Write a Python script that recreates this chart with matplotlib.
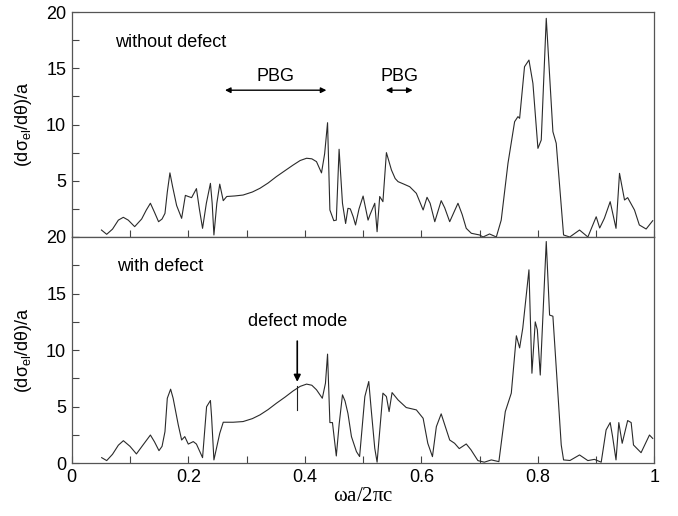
import matplotlib
matplotlib.use("Agg")
import matplotlib.pyplot as plt
from matplotlib.ticker import MultipleLocator

# top panel: without defect
top_x = [0.051, 0.06, 0.07, 0.08, 0.0885, 0.097, 0.108, 0.12, 0.128, 0.135, 0.142, 0.149, 0.155, 0.16,
         0.164, 0.1685, 0.173, 0.18, 0.1886, 0.195, 0.2, 0.2057, 0.214, 0.219, 0.2245, 0.231, 0.238,
         0.241, 0.244, 0.249, 0.254, 0.26, 0.266, 0.28, 0.294, 0.31, 0.323, 0.337, 0.351, 0.366, 0.38,
         0.392, 0.403, 0.412, 0.42, 0.4286, 0.434, 0.439, 0.443, 0.4497, 0.454, 0.4588, 0.4646, 0.470,
         0.474, 0.478, 0.483, 0.487, 0.493, 0.50, 0.5085, 0.512, 0.52, 0.524, 0.5285, 0.534, 0.540,
         0.5486, 0.555, 0.56, 0.57, 0.58, 0.5914, 0.603, 0.6097, 0.615, 0.623, 0.634, 0.64, 0.6486,
         0.6628, 0.67, 0.677, 0.6857, 0.70, 0.7057, 0.717, 0.7286, 0.737, 0.7486, 0.76, 0.7657, 0.7686,
         0.777, 0.7846, 0.7914, 0.80, 0.8057, 0.8143, 0.8257, 0.8314, 0.844, 0.8546, 0.8714, 0.8857,
         0.90, 0.906, 0.914, 0.924, 0.934, 0.94, 0.9486, 0.954, 0.9657, 0.974, 0.9857, 0.997]
top_y = [0.62, 0.24, 0.7, 1.5, 1.75, 1.5, 0.92, 1.6, 2.4, 3.0, 2.2, 1.36, 1.6, 2.1,
         4.0, 5.7, 4.5, 2.8, 1.66, 3.7, 3.6, 3.5, 4.3, 2.5, 0.77, 3.0, 4.77,
         3.0, 0.18, 3.0, 4.7, 3.23, 3.6, 3.65, 3.73, 4.0, 4.33, 4.8, 5.36, 5.9, 6.4,
         6.8, 7.0, 6.95, 6.7, 5.7, 7.4, 10.16, 2.4, 1.45, 1.5, 7.8, 3.0, 1.2,
         2.55, 2.5, 1.8, 1.07, 2.5, 3.64, 1.5, 2.0, 3.0, 0.47, 3.6, 3.14, 7.5,
         5.96, 5.2, 4.92, 4.7, 4.47, 3.88, 2.4, 3.53, 3.0, 1.36, 3.23, 2.6, 1.36,
         3.0, 2.0, 0.77, 0.33, 0.18, 0.0, 0.27, 0.0, 1.5, 6.55, 10.25, 10.7, 10.55,
         15.14, 15.73, 13.66, 7.88, 8.62, 19.44, 9.36, 8.33, 0.18, 0.0, 0.62, 0.0,
         1.8, 0.8, 1.66, 3.14, 0.77, 5.66, 3.29, 3.5, 2.4, 1.07, 0.71, 1.45]

# bottom panel: with defect
bot_x = [0.0514, 0.06, 0.07, 0.08, 0.0886, 0.1, 0.111, 0.122, 0.135, 0.142, 0.1497, 0.155, 0.16, 0.164,
         0.1697, 0.174, 0.1828, 0.1886, 0.194, 0.2, 0.2086, 0.214, 0.2245, 0.2314, 0.238, 0.24, 0.244,
         0.254, 0.26, 0.277, 0.294, 0.31, 0.323, 0.337, 0.351, 0.366, 0.38, 0.392, 0.403, 0.412, 0.42,
         0.43, 0.4354, 0.439, 0.443, 0.4474, 0.454, 0.459, 0.4646, 0.469, 0.474, 0.48, 0.4886, 0.494,
         0.503, 0.5097, 0.514, 0.52, 0.524, 0.534, 0.54, 0.5446, 0.5497, 0.56, 0.574, 0.5914, 0.603,
         0.611, 0.619, 0.6257, 0.634, 0.642, 0.6486, 0.657, 0.665, 0.677, 0.685, 0.697, 0.708, 0.72,
         0.733, 0.744, 0.7543, 0.763, 0.7686, 0.774, 0.7846, 0.7897, 0.7954, 0.799, 0.804, 0.8143,
         0.82, 0.8257, 0.84, 0.844, 0.855, 0.8714, 0.8857, 0.897, 0.9086, 0.917, 0.924, 0.928, 0.934,
         0.9388, 0.9446, 0.954, 0.96, 0.964, 0.977, 0.9914, 0.997]
bot_y = [0.5, 0.24, 0.8, 1.6, 2.0, 1.5, 0.83, 1.6, 2.5, 1.9, 1.12, 1.5, 2.8, 5.75,
         6.55, 5.75, 3.4, 2.06, 2.36, 1.7, 1.92, 1.7, 0.5, 5.0, 5.55, 4.1, 0.3,
         2.65, 3.63, 3.63, 3.69, 3.95, 4.28, 4.75, 5.3, 5.85, 6.4, 6.8, 7.0, 6.9, 6.5,
         5.75, 7.08, 9.65, 3.6, 3.6, 0.65, 3.5, 6.05, 5.5, 4.4, 2.36, 1.03, 0.6,
         5.9, 7.23, 4.7, 1.33, 0.1, 6.2, 5.9, 4.57, 6.25, 5.6, 4.93, 4.72, 3.98,
         1.77, 0.59, 3.24, 4.37, 3.1, 2.06, 1.77, 1.3, 1.71, 1.2, 0.24, 0.1, 0.3,
         0.15, 4.57, 6.2, 11.27, 10.2, 11.95, 17.1, 7.96, 12.5, 11.8, 7.8, 19.6,
         13.1, 13.0, 1.62, 0.3, 0.25, 0.74, 0.24, 0.35, 0.1, 2.95, 3.6, 2.4, 0.3,
         3.6, 1.77, 3.78, 3.6, 1.62, 0.94, 2.5, 2.2]

pbg_bands = [(0.263, 0.437), (0.539, 0.585)]
defect_mode = 0.387

plt.rcParams["font.family"] = ["Liberation Sans", "DejaVu Sans"]

fig = plt.figure(figsize=(6.78, 5.16), dpi=100)
ax_top = fig.add_axes([0.1058, 0.5407, 0.8595, 0.436])
ax_bot = fig.add_axes([0.1058, 0.1021, 0.8595, 0.4386], sharex=ax_top)

line_kw = dict(color="#2a2a2a", lw=0.8)
ax_top.plot(top_x, top_y, **line_kw)
ax_bot.plot(bot_x, bot_y, **line_kw)

ylabel = r"(d$\mathregular{\sigma_{el}}$/d$\mathregular{\theta}$)/a"
for ax in (ax_top, ax_bot):
    ax.set_xlim(0, 1)
    ax.set_ylim(0, 20)
    ax.xaxis.set_major_locator(MultipleLocator(0.2))
    ax.xaxis.set_minor_locator(MultipleLocator(0.1))
    ax.yaxis.set_major_locator(MultipleLocator(5))
    ax.yaxis.set_minor_locator(MultipleLocator(2.5))
    ax.tick_params(which="both", direction="in", top=False, right=False,
                   labelsize=13, color="#444444", width=0.8, length=5, pad=4)
    for sp in ax.spines.values():
        sp.set_color("#555555")
        sp.set_linewidth(0.9)
    ax.set_ylabel(ylabel, fontsize=13, labelpad=9)

ax_top.tick_params(labelbottom=False)
ax_top.set_yticks([5, 10, 15, 20])
ax_bot.set_xticks([0, 0.2, 0.4, 0.6, 0.8, 1.0])
ax_bot.set_xticklabels(["0", "0.2", "0.4", "0.6", "0.8", "1"])
ax_bot.set_xlabel(r"$\mathregular{\omega a/2\pi c}$", fontsize=15,
                  family=["Liberation Serif", "DejaVu Serif"], labelpad=1)

ax_top.text(0.074, 16.9, "without defect", fontsize=13, va="baseline")
for x0, x1 in pbg_bands:
    ax_top.annotate("", xy=(x0, 13.05), xytext=(x1, 13.05),
                    arrowprops=dict(arrowstyle="<|-|>", color="black", lw=1.0,
                                    mutation_scale=8, shrinkA=0, shrinkB=0))
    ax_top.text((x0 + x1) / 2, 13.9, "PBG", fontsize=13, ha="center", va="baseline")

ax_bot.text(0.078, 17.0, "with defect", fontsize=13, va="baseline")
ax_bot.text(defect_mode, 12.1, "defect mode", fontsize=13, ha="center", va="baseline")
ax_bot.annotate("", xy=(defect_mode, 7.2), xytext=(defect_mode, 10.8),
                arrowprops=dict(arrowstyle="-|>", color="black", lw=1.2,
                                mutation_scale=10, shrinkA=0, shrinkB=0))
ax_bot.plot([defect_mode, defect_mode], [4.7, 6.8], color="#222222", lw=0.8)

fig.savefig("out.png", dpi=100)
